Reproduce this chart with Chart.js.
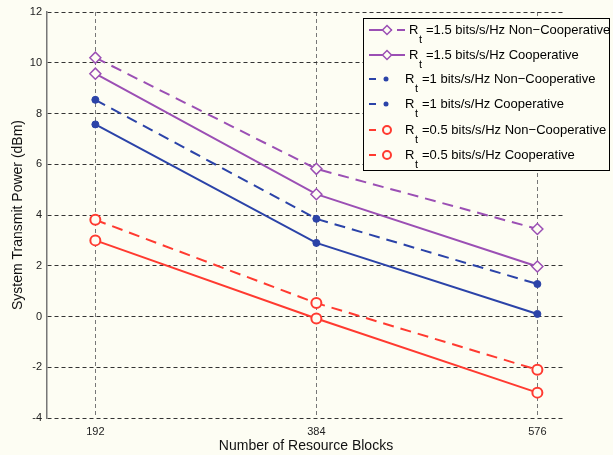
<!DOCTYPE html>
<html>
<head>
<meta charset="utf-8">
<script src="https://cdn.jsdelivr.net/npm/chart.js@4.4.0/dist/chart.umd.min.js"></script>
<style>
  html, body { margin: 0; padding: 0; background: #fdfdf3; }
  #wrap { width: 613px; height: 455px; }
</style>
</head>
<body>
<div id="wrap"><canvas id="grafica"></canvas></div>
<script>
// datos
const categorias = [192, 384, 576];
const yTicks = [-4, -2, 0, 2, 4, 6, 8, 10, 12];
const nc15 = [10.2, 5.82, 3.45];
const c15 = [9.57, 4.82, 1.97];
const nc1 = [8.54, 3.85, 1.28];
const c1 = [7.57, 2.9, 0.1];
const nc05 = [3.81, 0.53, -2.1];
const c05 = [3.0, -0.08, -3.0];
const etiquetas = [
    '=1.5 bits/s/Hz Non\u2212Cooperative',
    '=1.5 bits/s/Hz Cooperative',
    '=1 bits/s/Hz Non\u2212Cooperative',
    '=1 bits/s/Hz Cooperative',
    '=0.5 bits/s/Hz Non\u2212Cooperative',
    '=0.5 bits/s/Hz Cooperative'
];

const fondo = '#fdfdf3';
const morado = '#9b4fb4';
const azul = '#2b43a8';
const rojo = '#ff3a30';

function puntos(vals) {
    return categorias.map((x, i) => ({ x: x, y: vals[i] }));
}

function serie(vals, color, dashed, estilo) {
    const s = {
        data: puntos(vals),
        borderColor: color,
        borderWidth: 2,
        borderDash: dashed ? [11, 7] : [],
        pointBorderColor: color,
        tension: 0
    };
    if (estilo === 'diamante') {
        s.pointStyle = 'rectRot';
        s.pointRadius = 5.5;
        s.pointBackgroundColor = fondo;
        s.pointBorderWidth = 1.5;
    } else if (estilo === 'punto') {
        s.pointStyle = 'circle';
        s.pointRadius = 3.5;
        s.pointBackgroundColor = color;
        s.pointBorderWidth = 1;
    } else {
        s.pointStyle = 'circle';
        s.pointRadius = 5;
        s.pointBackgroundColor = fondo;
        s.pointBorderWidth = 2;
    }
    return s;
}

const series = [
    serie(nc15, morado, true, 'diamante'),
    serie(c15, morado, false, 'diamante'),
    serie(nc1, azul, true, 'punto'),
    serie(c1, azul, false, 'punto'),
    serie(nc05, rojo, true, 'circulo'),
    serie(c05, rojo, false, 'circulo')
];

// fondo crema
const pluginFondo = {
    id: 'fondo',
    beforeDraw(chart) {
        const ctx = chart.ctx;
        ctx.save();
        ctx.fillStyle = fondo;
        ctx.fillRect(0, 0, chart.width, chart.height);
        ctx.restore();
    }
};

// leyenda con subindice
const pluginLeyenda = {
    id: 'leyenda',
    afterDraw(chart) {
        const ctx = chart.ctx;
        ctx.save();
        ctx.setLineDash([]);
        ctx.fillStyle = fondo;
        ctx.fillRect(363, 18, 246, 152);
        ctx.strokeStyle = '#000';
        ctx.lineWidth = 1;
        ctx.strokeRect(363.5, 18.5, 246, 152);
        const filas = [30, 55, 79, 104, 130, 155];
        filas.forEach((y, i) => {
            const s = series[i];
            const color = s.borderColor;
            ctx.strokeStyle = color;
            ctx.lineWidth = 2;
            if (i < 2) {
                ctx.beginPath();
                if (i === 0) {
                    ctx.moveTo(369, y); ctx.lineTo(392, y);
                    ctx.moveTo(397, y); ctx.lineTo(405, y);
                } else {
                    ctx.moveTo(369, y); ctx.lineTo(405, y);
                }
                ctx.stroke();
                ctx.lineWidth = 1.5;
                ctx.fillStyle = fondo;
                ctx.beginPath();
                ctx.moveTo(387, y - 4.5); ctx.lineTo(391.5, y);
                ctx.lineTo(387, y + 4.5); ctx.lineTo(382.5, y);
                ctx.closePath();
                ctx.fill(); ctx.stroke();
            } else {
                ctx.beginPath();
                ctx.moveTo(369, y); ctx.lineTo(376, y);
                ctx.stroke();
                ctx.beginPath();
                if (i < 4) {
                    ctx.fillStyle = color;
                    ctx.arc(386, y, 2.5, 0, Math.PI * 2);
                    ctx.fill();
                } else {
                    ctx.lineWidth = 2;
                    ctx.fillStyle = fondo;
                    ctx.arc(387, y, 4, 0, Math.PI * 2);
                    ctx.fill(); ctx.stroke();
                }
            }
            const xr = i < 2 ? 409 : 405;
            ctx.fillStyle = '#000';
            ctx.textBaseline = 'middle';
            ctx.textAlign = 'left';
            ctx.font = '13px "Liberation Sans", Arial, sans-serif';
            ctx.fillText('R', xr, y);
            ctx.font = '11px "Liberation Sans", Arial, sans-serif';
            ctx.fillText('t', xr + 10, y + 10);
            ctx.font = '13px "Liberation Sans", Arial, sans-serif';
            ctx.fillText(etiquetas[i], xr + 17, y);
        });
        ctx.restore();
    }
};

document.addEventListener('DOMContentLoaded', () => {
    const ctx = document.getElementById('grafica').getContext('2d');
    new Chart(ctx, {
        type: 'line',
        data: { datasets: series },
        options: {
            responsive: true,
            maintainAspectRatio: false,
            animation: false,
            layout: { padding: { top: 12, right: 48, left: 0, bottom: 0 } },
            plugins: {
                legend: { display: false },
                tooltip: { enabled: false }
            },
            scales: {
                x: {
                    type: 'linear',
                    min: 150,
                    max: 600,
                    afterBuildTicks: (scale) => {
                        scale.ticks = categorias.map(v => ({ value: v }));
                    },
                    afterFit: (scale) => { scale.height = 37; },
                    grid: { color: '#777', lineWidth: 1, drawTicks: false },
                    border: { display: false, dash: [4, 3] },
                    ticks: {
                        padding: 7,
                        color: '#222',
                        font: { family: '"Liberation Sans", Arial', size: 11 },
                        callback: (v) => String(v)
                    },
                    title: {
                        display: true,
                        text: 'Number of Resource Blocks',
                        color: '#111',
                        padding: { top: 0, bottom: 0 },
                        font: { family: '"Liberation Sans", Arial', size: 14 }
                    }
                },
                y: {
                    min: -4,
                    max: 12,
                    afterBuildTicks: (scale) => {
                        scale.ticks = yTicks.map(v => ({ value: v }));
                    },
                    afterFit: (scale) => { scale.width = 47; },
                    grid: { color: '#333', lineWidth: 1, drawTicks: false },
                    border: { display: true, color: '#777', width: 1.5, dash: [4, 3] },
                    ticks: {
                        padding: 5,
                        color: '#222',
                        font: { family: '"Liberation Sans", Arial', size: 11 }
                    },
                    title: {
                        display: true,
                        text: 'System Transmit Power (dBm)',
                        color: '#111',
                        padding: { top: 10, bottom: 0 },
                        font: { family: '"Liberation Sans", Arial', size: 14 }
                    }
                }
            }
        },
        plugins: [pluginFondo, pluginLeyenda]
    });
});
</script>
</body>
</html>
